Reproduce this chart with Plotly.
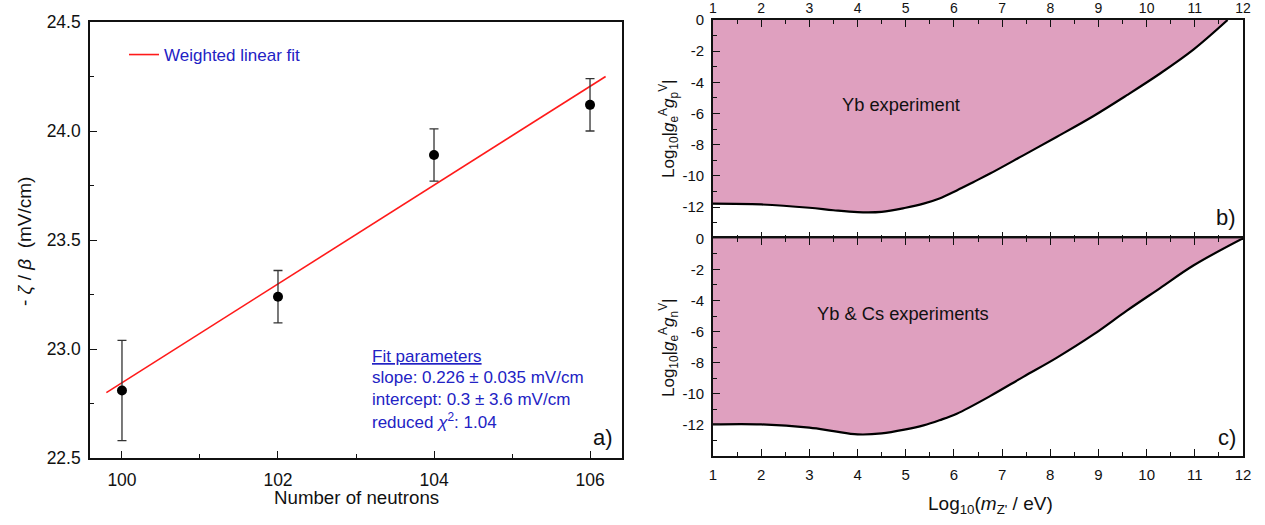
import plotly.graph_objects as go

# ---------------- data: panel a ----------------
neutrons = [100, 102, 104, 106]
zeta_beta = [22.81, 23.24, 23.89, 24.12]
zeta_beta_err = [0.23, 0.12, 0.12, 0.12]
fit_x = [99.8, 106.2]
fit_y = [22.80, 24.25]

# ---------------- data: panel b ----------------
mass_b = [1, 2, 3, 3.5, 4, 4.5, 5, 5.37, 5.7, 6.06, 6.4, 6.75, 7.44, 8.13, 8.89, 9.59, 10.28, 10.97, 11.68]
coupling_b = [-11.78, -11.83, -12.04, -12.20, -12.32, -12.30, -12.04, -11.78, -11.45, -10.93, -10.40, -9.85,
              -8.68, -7.50, -6.17, -4.82, -3.43, -1.90, 0.0]

# ---------------- data: panel c ----------------
mass_c = [1, 2, 3, 3.5, 4, 4.5, 5, 5.37, 5.7, 6.06, 6.75, 7.44, 8.13, 8.89, 9.59, 10.28, 10.97, 12]
coupling_c = [-11.97, -11.97, -12.18, -12.40, -12.61, -12.55, -12.29, -12.03, -11.70, -11.28, -10.15, -8.91,
              -7.69, -6.20, -4.65, -3.20, -1.75, 0.0]

left_xticks = [100, 102, 104, 106]
left_yticks = [22.5, 23.0, 23.5, 24.0, 24.5]
right_xticks = list(range(1, 13))
right_yticks = [0, -2, -4, -6, -8, -10, -12]

FONT = '"Liberation Sans", Arial, sans-serif'
BLUE = "#2222c4"
PINK = "#dfa0bf"
INK = "#111111"

fig = go.Figure()

# panel a
fig.add_trace(go.Scatter(
    x=fit_x, y=fit_y, mode="lines", name="Weighted linear fit",
    line=dict(color="#ff1a1a", width=1.6), xaxis="x", yaxis="y", showlegend=True))
fig.add_trace(go.Scatter(
    x=neutrons, y=zeta_beta, mode="markers", showlegend=False,
    marker=dict(color="black", size=10),
    error_y=dict(type="data", array=zeta_beta_err, color="#333333", thickness=1.3, width=4.5),
    xaxis="x", yaxis="y"))

# panel b
fig.add_trace(go.Scatter(
    x=[mass_b[0], mass_b[-1]], y=[0, 0], mode="lines", line=dict(width=0, color=PINK),
    showlegend=False, hoverinfo="skip", xaxis="x2", yaxis="y2"))
fig.add_trace(go.Scatter(
    x=mass_b, y=coupling_b, mode="lines", fill="tonexty", fillcolor=PINK,
    line=dict(color="black", width=2.2, shape="spline", smoothing=1.0),
    showlegend=False, xaxis="x2", yaxis="y2"))

# panel c
fig.add_trace(go.Scatter(
    x=[mass_c[0], mass_c[-1]], y=[0, 0], mode="lines", line=dict(width=0, color=PINK),
    showlegend=False, hoverinfo="skip", xaxis="x3", yaxis="y3"))
fig.add_trace(go.Scatter(
    x=mass_c, y=coupling_c, mode="lines", fill="tonexty", fillcolor=PINK,
    line=dict(color="black", width=2.2, shape="spline", smoothing=1.0),
    showlegend=False, xaxis="x3", yaxis="y3"))

W, H = 1265, 525
def px(x):
    return x / W
def py(y):
    return 1 - y / H

axis_common = dict(showline=True, linecolor=INK, linewidth=1.6, ticks="inside", tickcolor=INK,
                   tickwidth=1.4, showgrid=False, zeroline=False, automargin=False)
TF_LEFT = dict(family=FONT, size=17.5, color=INK)
TF_RIGHT = dict(family=FONT, size=15, color=INK)

fig.update_layout(
    width=W, height=H, margin=dict(l=0, r=0, t=0, b=0, autoexpand=False),
    paper_bgcolor="white", plot_bgcolor="white",
    font=dict(family=FONT, color=INK),
    xaxis=dict(domain=[px(90), px(622)], anchor="y", range=[99.59, 106.41],
               tickvals=left_xticks, ticktext=[str(v) for v in left_xticks], ticklen=7, mirror=True,
               minor=dict(ticks="inside", dtick=1, ticklen=4, tickcolor=INK, tickwidth=1.2),
               ticklabelstandoff=5, tickfont=TF_LEFT, **axis_common),
    yaxis=dict(domain=[py(458), py(22)], anchor="x", range=[22.5, 24.5],
               tickvals=left_yticks, ticktext=["%.1f" % v for v in left_yticks], ticklen=7, mirror=True,
               minor=dict(ticks="inside", dtick=0.25, ticklen=4, tickcolor=INK, tickwidth=1.2),
               ticklabelstandoff=4, tickfont=TF_LEFT, **axis_common),
    legend=dict(x=px(124), y=py(37), xanchor="left", yanchor="top", bgcolor="rgba(0,0,0,0)",
                font=dict(family=FONT, size=17, color=BLUE), itemwidth=30),
)

fig.update_layout(
    xaxis2=dict(domain=[px(713), px(1243)], anchor="y2", range=[1, 12], side="top",
                tickvals=right_xticks, ticktext=[str(v) for v in right_xticks], ticklen=7,
                mirror="allticks",
                minor=dict(ticks="inside", dtick=0.5, tick0=1, ticklen=4, tickcolor=INK, tickwidth=1.2),
                ticklabelstandoff=0, tickfont=dict(family=FONT, size=14, color=INK), **axis_common),
    yaxis2=dict(domain=[py(238.3), py(20)], anchor="x2", range=[-14, 0],
                tickvals=right_yticks, ticktext=[str(v) for v in right_yticks], ticklen=7, mirror=True,
                minor=dict(ticks="inside", dtick=1, tick0=0, ticklen=4, tickcolor=INK, tickwidth=1.2),
                ticklabelstandoff=4, tickfont=TF_RIGHT, **axis_common),
    xaxis3=dict(domain=[px(713), px(1243)], anchor="y3", range=[1, 12],
                tickvals=right_xticks, ticktext=[str(v) for v in right_xticks], ticklen=7,
                mirror="allticks",
                minor=dict(ticks="inside", dtick=0.5, tick0=1, ticklen=4, tickcolor=INK, tickwidth=1.2),
                ticklabelstandoff=4, tickfont=TF_RIGHT, **axis_common),
    yaxis3=dict(domain=[py(456), py(238.3)], anchor="x3", range=[-14, 0],
                tickvals=right_yticks, ticktext=[str(v) for v in right_yticks], ticklen=7, mirror=True,
                minor=dict(ticks="inside", dtick=1, tick0=0, ticklen=4, tickcolor=INK, tickwidth=1.2),
                ticklabelstandoff=4, tickfont=TF_RIGHT, **axis_common),
)

def ann(text, x, y, size, color=INK, xanchor="center", yanchor="middle", angle=0):
    fig.add_annotation(text=text, x=px(x), y=py(y), xref="paper", yref="paper", showarrow=False,
                       xanchor=xanchor, yanchor=yanchor, textangle=angle,
                       font=dict(family=FONT, size=size, color=color))

# axis titles
ann("Number of neutrons", 356, 497, 18.7)
ann("- <i>ζ</i> / <i>β</i>  (mV/cm)", 24, 242, 19, angle=-90)
ann("Log<sub>10</sub>(<i>m</i><sub>Z'</sub> / eV)", 990, 505, 19)
ann("Log<sub>10</sub>|<i>g</i><sub>e</sub><sup>A</sup><i>g</i><sub>p</sub><sup>V</sup>|", 668, 128, 17, angle=-90)
ann("Log<sub>10</sub>|<i>g</i><sub>e</sub><sup>A</sup><i>g</i><sub>n</sub><sup>V</sup>|", 668, 347, 17, angle=-90)

# fit parameters
ann("<u>Fit parameters</u>", 370, 356, 17, color=BLUE, xanchor="left")
ann("slope: 0.226 ± 0.035 mV/cm", 370, 377, 17, color=BLUE, xanchor="left")
ann("intercept: 0.3 ± 3.6 mV/cm", 370, 399, 17, color=BLUE, xanchor="left")
ann("reduced <i>χ</i><sup>2</sup>: 1.04", 370, 421, 17, color=BLUE, xanchor="left")

# panel labels
ann("a)", 615, 437, 22, xanchor="right")
ann("b)", 1238, 218, 22, xanchor="right")
ann("c)", 1238, 437, 22, xanchor="right")

# region labels
ann("Yb experiment", 840, 104, 18.3, xanchor="left")
ann("Yb &amp; Cs experiments", 815, 313, 18.3, xanchor="left")

fig.write_html("out.html", config={"displayModeBar": False},
               post_script="document.body.style.margin='0';")
